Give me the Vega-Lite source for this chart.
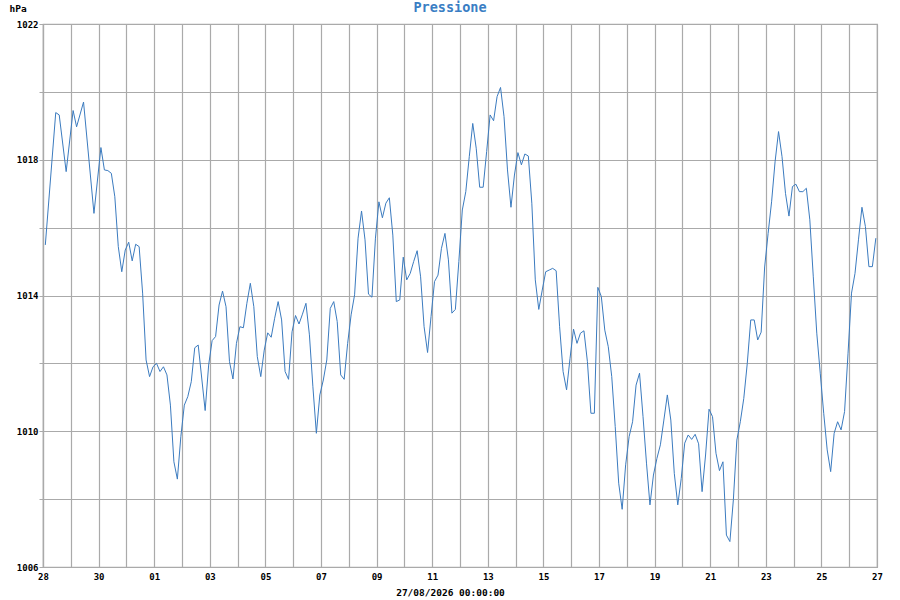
{
  "$schema": "https://vega.github.io/schema/vega-lite/v6.json",
  "width": 834,
  "height": 543,
  "autosize": {"type": "none"},
  "padding": {"left": 43, "top": 24, "right": 23, "bottom": 33},
  "background": "white",
  "title": {
    "text": "Pressione",
    "color": "#3a7ec4",
    "font": "DejaVu Sans Mono",
    "fontSize": 13.5,
    "fontWeight": "bold",
    "anchor": "middle",
    "baseline": "alphabetic",
    "offset": 0,
    "dy": 22,
    "dx": -10
  },
  "data": {
    "format": {"parse": {"t": "utc:'%Y-%m-%d %H:%M'"}},
    "values": [
      {"t": "2026-07-28 02:00", "p": 1015.49},
      {"t": "2026-07-28 11:00", "p": 1019.39},
      {"t": "2026-07-28 14:00", "p": 1019.32},
      {"t": "2026-07-28 20:00", "p": 1017.65},
      {"t": "2026-07-29 02:00", "p": 1019.45},
      {"t": "2026-07-29 05:00", "p": 1018.97},
      {"t": "2026-07-29 11:00", "p": 1019.70},
      {"t": "2026-07-29 20:00", "p": 1016.42},
      {"t": "2026-07-30 02:00", "p": 1018.36},
      {"t": "2026-07-30 05:00", "p": 1017.70},
      {"t": "2026-07-30 08:00", "p": 1017.68},
      {"t": "2026-07-30 11:00", "p": 1017.60},
      {"t": "2026-07-30 14:00", "p": 1016.91},
      {"t": "2026-07-30 17:00", "p": 1015.44},
      {"t": "2026-07-30 20:00", "p": 1014.70},
      {"t": "2026-07-30 23:00", "p": 1015.34},
      {"t": "2026-07-31 02:00", "p": 1015.57},
      {"t": "2026-07-31 05:00", "p": 1015.02},
      {"t": "2026-07-31 08:00", "p": 1015.51},
      {"t": "2026-07-31 11:00", "p": 1015.44},
      {"t": "2026-07-31 14:00", "p": 1014.07},
      {"t": "2026-07-31 17:00", "p": 1012.10},
      {"t": "2026-07-31 20:00", "p": 1011.61},
      {"t": "2026-07-31 23:00", "p": 1011.90},
      {"t": "2026-08-01 02:00", "p": 1012.00},
      {"t": "2026-08-01 05:00", "p": 1011.76},
      {"t": "2026-08-01 08:00", "p": 1011.90},
      {"t": "2026-08-01 11:00", "p": 1011.66},
      {"t": "2026-08-01 14:00", "p": 1010.77},
      {"t": "2026-08-01 17:00", "p": 1009.10},
      {"t": "2026-08-01 20:00", "p": 1008.59},
      {"t": "2026-08-01 23:00", "p": 1009.84},
      {"t": "2026-08-02 02:00", "p": 1010.77},
      {"t": "2026-08-02 05:00", "p": 1011.02},
      {"t": "2026-08-02 08:00", "p": 1011.46},
      {"t": "2026-08-02 11:00", "p": 1012.46},
      {"t": "2026-08-02 14:00", "p": 1012.54},
      {"t": "2026-08-02 20:00", "p": 1010.61},
      {"t": "2026-08-02 23:00", "p": 1011.95},
      {"t": "2026-08-03 02:00", "p": 1012.67},
      {"t": "2026-08-03 05:00", "p": 1012.79},
      {"t": "2026-08-03 08:00", "p": 1013.72},
      {"t": "2026-08-03 11:00", "p": 1014.13},
      {"t": "2026-08-03 14:00", "p": 1013.67},
      {"t": "2026-08-03 17:00", "p": 1012.05},
      {"t": "2026-08-03 20:00", "p": 1011.54},
      {"t": "2026-08-03 23:00", "p": 1012.59},
      {"t": "2026-08-04 02:00", "p": 1013.08},
      {"t": "2026-08-04 05:00", "p": 1013.05},
      {"t": "2026-08-04 08:00", "p": 1013.77},
      {"t": "2026-08-04 11:00", "p": 1014.36},
      {"t": "2026-08-04 14:00", "p": 1013.67},
      {"t": "2026-08-04 17:00", "p": 1012.20},
      {"t": "2026-08-04 20:00", "p": 1011.61},
      {"t": "2026-08-04 23:00", "p": 1012.39},
      {"t": "2026-08-05 02:00", "p": 1012.90},
      {"t": "2026-08-05 05:00", "p": 1012.77},
      {"t": "2026-08-05 08:00", "p": 1013.33},
      {"t": "2026-08-05 11:00", "p": 1013.82},
      {"t": "2026-08-05 14:00", "p": 1013.28},
      {"t": "2026-08-05 17:00", "p": 1011.76},
      {"t": "2026-08-05 20:00", "p": 1011.53},
      {"t": "2026-08-05 23:00", "p": 1012.93},
      {"t": "2026-08-06 02:00", "p": 1013.41},
      {"t": "2026-08-06 05:00", "p": 1013.16},
      {"t": "2026-08-06 08:00", "p": 1013.45},
      {"t": "2026-08-06 11:00", "p": 1013.77},
      {"t": "2026-08-06 14:00", "p": 1012.84},
      {"t": "2026-08-06 17:00", "p": 1011.31},
      {"t": "2026-08-06 20:00", "p": 1009.94},
      {"t": "2026-08-06 23:00", "p": 1011.07},
      {"t": "2026-08-07 02:00", "p": 1011.51},
      {"t": "2026-08-07 05:00", "p": 1012.10},
      {"t": "2026-08-07 08:00", "p": 1013.62},
      {"t": "2026-08-07 11:00", "p": 1013.82},
      {"t": "2026-08-07 14:00", "p": 1013.23},
      {"t": "2026-08-07 17:00", "p": 1011.66},
      {"t": "2026-08-07 20:00", "p": 1011.53},
      {"t": "2026-08-07 23:00", "p": 1012.59},
      {"t": "2026-08-08 02:00", "p": 1013.43},
      {"t": "2026-08-08 05:00", "p": 1014.02},
      {"t": "2026-08-08 08:00", "p": 1015.69},
      {"t": "2026-08-08 11:00", "p": 1016.49},
      {"t": "2026-08-08 14:00", "p": 1015.64},
      {"t": "2026-08-08 17:00", "p": 1014.04},
      {"t": "2026-08-08 20:00", "p": 1013.95},
      {"t": "2026-08-08 23:00", "p": 1015.69},
      {"t": "2026-08-09 02:00", "p": 1016.76},
      {"t": "2026-08-09 05:00", "p": 1016.29},
      {"t": "2026-08-09 08:00", "p": 1016.72},
      {"t": "2026-08-09 11:00", "p": 1016.88},
      {"t": "2026-08-09 14:00", "p": 1015.78},
      {"t": "2026-08-09 17:00", "p": 1013.82},
      {"t": "2026-08-09 20:00", "p": 1013.87},
      {"t": "2026-08-09 23:00", "p": 1015.13},
      {"t": "2026-08-10 02:00", "p": 1014.46},
      {"t": "2026-08-10 05:00", "p": 1014.65},
      {"t": "2026-08-10 08:00", "p": 1015.00},
      {"t": "2026-08-10 11:00", "p": 1015.32},
      {"t": "2026-08-10 14:00", "p": 1014.55},
      {"t": "2026-08-10 17:00", "p": 1013.08},
      {"t": "2026-08-10 20:00", "p": 1012.32},
      {"t": "2026-08-10 23:00", "p": 1013.38},
      {"t": "2026-08-11 02:00", "p": 1014.41},
      {"t": "2026-08-11 05:00", "p": 1014.60},
      {"t": "2026-08-11 08:00", "p": 1015.39},
      {"t": "2026-08-11 11:00", "p": 1015.83},
      {"t": "2026-08-11 14:00", "p": 1015.05},
      {"t": "2026-08-11 17:00", "p": 1013.48},
      {"t": "2026-08-11 20:00", "p": 1013.59},
      {"t": "2026-08-11 23:00", "p": 1015.00},
      {"t": "2026-08-12 02:00", "p": 1016.52},
      {"t": "2026-08-12 05:00", "p": 1017.06},
      {"t": "2026-08-12 08:00", "p": 1018.09},
      {"t": "2026-08-12 11:00", "p": 1019.07},
      {"t": "2026-08-12 14:00", "p": 1018.34},
      {"t": "2026-08-12 17:00", "p": 1017.19},
      {"t": "2026-08-12 20:00", "p": 1017.19},
      {"t": "2026-08-12 23:00", "p": 1018.24},
      {"t": "2026-08-13 02:00", "p": 1019.32},
      {"t": "2026-08-13 05:00", "p": 1019.15},
      {"t": "2026-08-13 08:00", "p": 1019.86},
      {"t": "2026-08-13 11:00", "p": 1020.13},
      {"t": "2026-08-13 14:00", "p": 1019.27},
      {"t": "2026-08-13 17:00", "p": 1017.70},
      {"t": "2026-08-13 20:00", "p": 1016.60},
      {"t": "2026-08-13 23:00", "p": 1017.55},
      {"t": "2026-08-14 02:00", "p": 1018.21},
      {"t": "2026-08-14 05:00", "p": 1017.85},
      {"t": "2026-08-14 08:00", "p": 1018.17},
      {"t": "2026-08-14 11:00", "p": 1018.11},
      {"t": "2026-08-14 14:00", "p": 1016.72},
      {"t": "2026-08-14 17:00", "p": 1014.46},
      {"t": "2026-08-14 20:00", "p": 1013.59},
      {"t": "2026-08-14 23:00", "p": 1014.16},
      {"t": "2026-08-15 02:00", "p": 1014.70},
      {"t": "2026-08-15 05:00", "p": 1014.75},
      {"t": "2026-08-15 08:00", "p": 1014.80},
      {"t": "2026-08-15 11:00", "p": 1014.73},
      {"t": "2026-08-15 14:00", "p": 1013.08},
      {"t": "2026-08-15 17:00", "p": 1011.76},
      {"t": "2026-08-15 20:00", "p": 1011.22},
      {"t": "2026-08-15 23:00", "p": 1012.15},
      {"t": "2026-08-16 02:00", "p": 1013.01},
      {"t": "2026-08-16 05:00", "p": 1012.59},
      {"t": "2026-08-16 08:00", "p": 1012.89},
      {"t": "2026-08-16 11:00", "p": 1012.96},
      {"t": "2026-08-16 14:00", "p": 1012.05},
      {"t": "2026-08-16 17:00", "p": 1010.53},
      {"t": "2026-08-16 20:00", "p": 1010.53},
      {"t": "2026-08-16 23:00", "p": 1014.24},
      {"t": "2026-08-17 02:00", "p": 1013.97},
      {"t": "2026-08-17 05:00", "p": 1012.98},
      {"t": "2026-08-17 08:00", "p": 1012.49},
      {"t": "2026-08-17 11:00", "p": 1011.61},
      {"t": "2026-08-17 14:00", "p": 1010.14},
      {"t": "2026-08-17 17:00", "p": 1008.47},
      {"t": "2026-08-17 20:00", "p": 1007.70},
      {"t": "2026-08-17 23:00", "p": 1009.01},
      {"t": "2026-08-18 02:00", "p": 1009.84},
      {"t": "2026-08-18 05:00", "p": 1010.28},
      {"t": "2026-08-18 08:00", "p": 1011.36},
      {"t": "2026-08-18 11:00", "p": 1011.71},
      {"t": "2026-08-18 14:00", "p": 1010.43},
      {"t": "2026-08-18 17:00", "p": 1009.06},
      {"t": "2026-08-18 20:00", "p": 1007.83},
      {"t": "2026-08-18 23:00", "p": 1008.71},
      {"t": "2026-08-19 02:00", "p": 1009.20},
      {"t": "2026-08-19 05:00", "p": 1009.60},
      {"t": "2026-08-19 08:00", "p": 1010.33},
      {"t": "2026-08-19 11:00", "p": 1011.07},
      {"t": "2026-08-19 14:00", "p": 1010.33},
      {"t": "2026-08-19 17:00", "p": 1008.76},
      {"t": "2026-08-19 20:00", "p": 1007.83},
      {"t": "2026-08-19 23:00", "p": 1008.61},
      {"t": "2026-08-20 02:00", "p": 1009.65},
      {"t": "2026-08-20 05:00", "p": 1009.89},
      {"t": "2026-08-20 08:00", "p": 1009.76},
      {"t": "2026-08-20 11:00", "p": 1009.91},
      {"t": "2026-08-20 14:00", "p": 1009.63},
      {"t": "2026-08-20 17:00", "p": 1008.22},
      {"t": "2026-08-20 20:00", "p": 1009.30},
      {"t": "2026-08-20 23:00", "p": 1010.65},
      {"t": "2026-08-21 02:00", "p": 1010.43},
      {"t": "2026-08-21 05:00", "p": 1009.35},
      {"t": "2026-08-21 08:00", "p": 1008.84},
      {"t": "2026-08-21 11:00", "p": 1009.10},
      {"t": "2026-08-21 14:00", "p": 1006.94},
      {"t": "2026-08-21 17:00", "p": 1006.75},
      {"t": "2026-08-21 20:00", "p": 1007.98},
      {"t": "2026-08-21 23:00", "p": 1009.74},
      {"t": "2026-08-22 02:00", "p": 1010.28},
      {"t": "2026-08-22 05:00", "p": 1010.97},
      {"t": "2026-08-22 08:00", "p": 1012.00},
      {"t": "2026-08-22 11:00", "p": 1013.28},
      {"t": "2026-08-22 14:00", "p": 1013.28},
      {"t": "2026-08-22 17:00", "p": 1012.69},
      {"t": "2026-08-22 20:00", "p": 1012.92},
      {"t": "2026-08-22 23:00", "p": 1014.84},
      {"t": "2026-08-23 02:00", "p": 1015.83},
      {"t": "2026-08-23 05:00", "p": 1016.76},
      {"t": "2026-08-23 08:00", "p": 1017.94},
      {"t": "2026-08-23 11:00", "p": 1018.83},
      {"t": "2026-08-23 14:00", "p": 1018.09},
      {"t": "2026-08-23 17:00", "p": 1017.01},
      {"t": "2026-08-23 20:00", "p": 1016.34},
      {"t": "2026-08-23 23:00", "p": 1017.21},
      {"t": "2026-08-24 02:00", "p": 1017.28},
      {"t": "2026-08-24 05:00", "p": 1017.06},
      {"t": "2026-08-24 08:00", "p": 1017.06},
      {"t": "2026-08-24 11:00", "p": 1017.16},
      {"t": "2026-08-24 14:00", "p": 1016.23},
      {"t": "2026-08-24 17:00", "p": 1014.55},
      {"t": "2026-08-24 20:00", "p": 1012.89},
      {"t": "2026-08-24 23:00", "p": 1011.71},
      {"t": "2026-08-25 02:00", "p": 1010.53},
      {"t": "2026-08-25 05:00", "p": 1009.45},
      {"t": "2026-08-25 08:00", "p": 1008.81},
      {"t": "2026-08-25 11:00", "p": 1009.94},
      {"t": "2026-08-25 14:00", "p": 1010.28},
      {"t": "2026-08-25 17:00", "p": 1010.04},
      {"t": "2026-08-25 20:00", "p": 1010.58},
      {"t": "2026-08-25 23:00", "p": 1012.30},
      {"t": "2026-08-26 02:00", "p": 1014.07},
      {"t": "2026-08-26 05:00", "p": 1014.65},
      {"t": "2026-08-26 08:00", "p": 1015.64},
      {"t": "2026-08-26 11:00", "p": 1016.60},
      {"t": "2026-08-26 14:00", "p": 1016.03},
      {"t": "2026-08-26 17:00", "p": 1014.85},
      {"t": "2026-08-26 20:00", "p": 1014.85},
      {"t": "2026-08-26 23:00", "p": 1015.69}
    ]
  },
  "mark": {"type": "line", "color": "#3b7bbf", "strokeWidth": 1},
  "encoding": {
    "x": {
      "field": "t",
      "type": "temporal",
      "scale": {
        "type": "utc",
        "domain": [
          {"year": 2026, "month": 7, "date": 28, "utc": true},
          {"year": 2026, "month": 8, "date": 27, "utc": true}
        ]
      },
      "axis": {
        "title": "27/08/2026 00:00:00",
        "titleX": 407,
        "tickCount": {"interval": "day", "step": 1},
        "labelExpr": "round((datum.value - utc(2026, 6, 28)) / 86400000) % 2 == 0 ? utcFormat(datum.value, '%d') : ''",
        "labelOverlap": false,
        "labelFlush": false,
        "ticks": false,
        "labelPadding": 5,
        "titlePadding": 6
      }
    },
    "y": {
      "field": "p",
      "type": "quantitative",
      "scale": {"domain": [1006, 1022], "nice": false, "zero": false},
      "axis": {
        "title": "hPa",
        "titleAngle": 0,
        "titleAlign": "left",
        "titleBaseline": "middle",
        "titleX": -34,
        "titleY": -16,
        "values": [1006, 1008, 1010, 1012, 1014, 1016, 1018, 1020, 1022],
        "labelExpr": "(datum.value - 1006) % 4 == 0 ? datum.value : ''",
        "tickSize": 4,
        "labelPadding": 1
      }
    }
  },
  "config": {
    "view": {"stroke": "#aaaaaa", "strokeWidth": 1.2},
    "axis": {
      "grid": true,
      "gridColor": "#aaaaaa",
      "gridWidth": 1.2,
      "gridOpacity": 1,
      "domainColor": "#aaaaaa",
      "domainWidth": 1.2,
      "tickColor": "#aaaaaa",
      "labelFont": "DejaVu Sans Mono",
      "labelFontSize": 9,
      "labelFontWeight": "bold",
      "labelColor": "#000000",
      "titleFont": "DejaVu Sans Mono",
      "titleFontSize": 9.5,
      "titleFontWeight": "bold",
      "titleColor": "#000000"
    }
  }
}
